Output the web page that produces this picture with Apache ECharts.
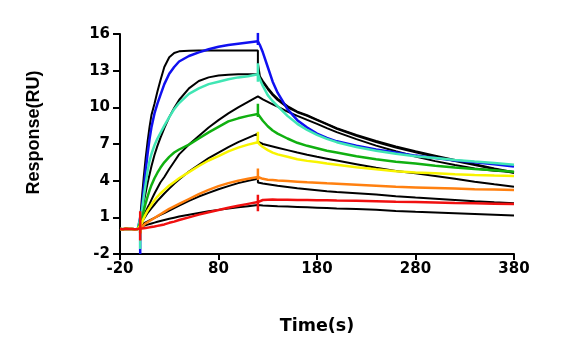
<!DOCTYPE html>
<html><head><meta charset="utf-8">
<script src="https://cdn.jsdelivr.net/npm/echarts@6/dist/echarts.min.js"></script>
<style>html,body{margin:0;padding:0;background:#fff}#c{width:573px;height:355px}</style>
</head><body><div id="c"></div><script>
// Tick labels
const xTicks = [-20, 80, 180, 280, 380];
const yTicks = [-2, 1, 4, 7, 10, 13, 16];

// Time grids (s)
const tBase = [-20, -17, -14, -11, -8, -5, -2, 0];
const tOn = [0, 2, 4, 6, 8, 10, 12, 15, 18, 21, 25, 30, 35, 40, 50, 60, 70, 80, 90, 100, 110, 120];
const tOff = [120, 122, 125, 130, 135, 140, 150, 160, 170, 180, 190, 200, 220, 240, 260, 280, 300, 320, 340, 360, 380];

// Baseline before injection (RU)
const baseline = [0.05, 0.03, 0.06, 0.04, 0.05, 0.03, 0.05, 0.05];

// Measured responses (RU)
const blueOn   = [0.0, 1.5, 3.2, 4.8, 6.2, 7.4, 8.4, 9.5, 10.3, 11.0, 11.9, 12.75, 13.3, 13.75, 14.2, 14.5, 14.75, 14.95, 15.1, 15.2, 15.3, 15.4];
const blueOff  = [15.4, 15.1, 14.5, 13.3, 12.1, 11.2, 9.85, 8.95, 8.35, 7.85, 7.5, 7.22, 6.85, 6.55, 6.3, 6.05, 5.85, 5.65, 5.5, 5.35, 5.15];
const cyanOn   = [0.05, 1.3, 2.6, 3.7, 4.8, 5.6, 6.2, 6.9, 7.45, 7.9, 8.5, 9.2, 9.85, 10.35, 11.1, 11.55, 11.9, 12.1, 12.3, 12.45, 12.55, 12.7];
const cyanOff  = [12.7, 12.3, 11.75, 11.0, 10.5, 10.1, 9.3, 8.65, 8.15, 7.75, 7.42, 7.15, 6.75, 6.45, 6.2, 6.0, 5.85, 5.7, 5.56, 5.44, 5.3];
const greenOn  = [0.05, 0.8, 1.5, 2.15, 2.7, 3.2, 3.65, 4.2, 4.65, 5.05, 5.5, 5.95, 6.3, 6.55, 6.95, 7.45, 7.95, 8.4, 8.85, 9.1, 9.3, 9.45];
const greenOff = [9.45, 9.3, 8.9, 8.45, 8.1, 7.85, 7.45, 7.1, 6.85, 6.65, 6.45, 6.3, 6.0, 5.75, 5.55, 5.4, 5.22, 5.07, 4.95, 4.85, 4.73];
const yellowOn = [0.05, 0.5, 0.9, 1.25, 1.55, 1.8, 2.05, 2.4, 2.7, 2.95, 3.25, 3.6, 3.9, 4.2, 4.7, 5.2, 5.65, 6.0, 6.4, 6.7, 6.95, 7.15];
const yellowOff= [7.15, 6.95, 6.75, 6.5, 6.3, 6.15, 5.95, 5.75, 5.62, 5.52, 5.4, 5.3, 5.1, 4.93, 4.78, 4.67, 4.6, 4.53, 4.47, 4.42, 4.38];
const orangeOn = [0.05, 0.2, 0.35, 0.5, 0.6, 0.7, 0.8, 0.95, 1.1, 1.25, 1.45, 1.7, 1.9, 2.1, 2.5, 2.9, 3.25, 3.55, 3.8, 4.0, 4.15, 4.3];
const orangeOff= [4.3, 4.22, 4.15, 4.08, 4.05, 4.02, 3.97, 3.92, 3.87, 3.83, 3.78, 3.74, 3.66, 3.58, 3.5, 3.45, 3.4, 3.35, 3.3, 3.27, 3.23];
const redOn    = [0.05, 0.08, 0.1, 0.12, 0.15, 0.18, 0.2, 0.25, 0.3, 0.35, 0.42, 0.55, 0.65, 0.78, 1.0, 1.22, 1.42, 1.6, 1.78, 1.95, 2.1, 2.25];
const redOff   = [2.3, 2.38, 2.42, 2.44, 2.45, 2.44, 2.44, 2.42, 2.42, 2.4, 2.4, 2.38, 2.35, 2.32, 2.28, 2.25, 2.22, 2.18, 2.15, 2.12, 2.09];

// Fitted curves (RU)
const blueFitOn   = [0.4, 2.4, 4.2, 5.8, 7.2, 8.4, 9.4, 10.3, 11.3, 12.2, 13.3, 14.1, 14.45, 14.58, 14.63, 14.65, 14.65, 14.65, 14.65, 14.65, 14.65, 14.65];
const blueFitOff  = [13.6, 12.55, 12.15, 11.6, 11.1, 10.7, 10.1, 9.65, 9.35, 9.0, 8.65, 8.3, 7.75, 7.25, 6.8, 6.4, 6.05, 5.7, 5.35, 5.0, 4.68];
const cyanFitOn   = [0.4, 1.3, 2.2, 3.0, 3.8, 4.5, 5.2, 6.1, 6.85, 7.5, 8.3, 9.2, 9.95, 10.6, 11.55, 12.15, 12.45, 12.6, 12.67, 12.7, 12.7, 12.7];
const cyanFitOff  = [12.7, 12.4, 12.05, 11.5, 11.0, 10.6, 10.0, 9.6, 9.3, 8.95, 8.6, 8.25, 7.68, 7.17, 6.72, 6.32, 5.95, 5.6, 5.28, 4.95, 4.63];
const greenFitOn  = [0.4, 0.75, 1.1, 1.45, 1.8, 2.1, 2.45, 2.95, 3.4, 3.85, 4.3, 4.95, 5.55, 6.15, 6.95, 7.65, 8.35, 8.95, 9.5, 10.0, 10.45, 10.9];
const greenFitOff = [10.9, 10.8, 10.65, 10.45, 10.25, 10.05, 9.65, 9.3, 8.97, 8.65, 8.3, 7.97, 7.4, 6.87, 6.4, 5.98, 5.6, 5.28, 5.0, 4.82, 4.7];
const yellowFitOn = [0.35, 0.6, 0.85, 1.1, 1.35, 1.55, 1.75, 2.05, 2.35, 2.6, 2.95, 3.35, 3.75, 4.1, 4.75, 5.3, 5.85, 6.3, 6.75, 7.15, 7.5, 7.85];
const yellowFitOff= [7.2, 7.08, 7.0, 6.9, 6.8, 6.7, 6.5, 6.3, 6.12, 5.95, 5.8, 5.65, 5.35, 5.05, 4.8, 4.6, 4.38, 4.15, 3.92, 3.7, 3.5];
const orangeFitOn = [0.3, 0.4, 0.5, 0.58, 0.66, 0.75, 0.83, 0.95, 1.07, 1.2, 1.35, 1.55, 1.75, 1.95, 2.35, 2.7, 3.0, 3.3, 3.55, 3.8, 4.0, 4.15];
const orangeFitOff= [3.85, 3.8, 3.76, 3.7, 3.64, 3.58, 3.48, 3.38, 3.3, 3.22, 3.14, 3.07, 2.98, 2.87, 2.73, 2.62, 2.52, 2.42, 2.32, 2.23, 2.15];
const redFitOn    = [0.2, 0.25, 0.3, 0.35, 0.4, 0.45, 0.5, 0.57, 0.64, 0.7, 0.78, 0.88, 0.97, 1.06, 1.22, 1.36, 1.49, 1.61, 1.72, 1.82, 1.91, 2.0];
const redFitOff   = [2.0, 1.99, 1.97, 1.95, 1.93, 1.91, 1.88, 1.85, 1.82, 1.79, 1.76, 1.73, 1.68, 1.62, 1.52, 1.45, 1.39, 1.33, 1.27, 1.21, 1.15];

// Injection artefacts (t = 0.5 s) and end-of-injection artefacts (t = 120 s): [low, high]
const injTime = 0.5, endTime = 120;
const blueInj = [-2.0, 1.0],  blueEnd = [15.1, 16.1];
const cyanInj = [-1.6, 1.0],  cyanEnd = [12.1, 13.6];
const greenInj = [-0.3, 1.0], greenEnd = [9.2, 10.3];
const yellowInj = [-0.3, 0.8], yellowEnd = [7.05, 8.0];
const orangeInj = [-0.3, 0.6], orangeEnd = [4.05, 5.0];
const redInj = [-0.9, 1.5],   redEnd = [1.5, 2.85];

const pairs = (ts, vs) => ts.map((t, i) => [t, vs[i]]);

const traces = [
  {color: '#1010f0', on: blueOn, off: blueOff, inj: blueInj, end: blueEnd},
  {color: '#40e6b4', on: cyanOn, off: cyanOff, inj: cyanInj, end: cyanEnd},
  {color: '#10b010', on: greenOn, off: greenOff, inj: greenInj, end: greenEnd},
  {color: '#f8f400', on: yellowOn, off: yellowOff, inj: yellowInj, end: yellowEnd},
  {color: '#ff8010', on: orangeOn, off: orangeOff, inj: orangeInj, end: orangeEnd},
  {color: '#f01010', on: redOn, off: redOff, inj: redInj, end: redEnd}
];
const fits = [
  [blueFitOn, blueFitOff], [cyanFitOn, cyanFitOff], [greenFitOn, greenFitOff],
  [yellowFitOn, yellowFitOff], [orangeFitOn, orangeFitOff], [redFitOn, redFitOff]
];

const series = [];
fits.forEach(f => {
  series.push({type: 'line', data: pairs(tOn, f[0]).concat(pairs(tOff, f[1])),
    symbol: 'none', lineStyle: {color: '#000', width: 2}, z: 2, silent: true});
});
traces.forEach(tr => {
  const d = pairs(tBase, baseline).concat(pairs(tOn.slice(1), tr.on.slice(1)), pairs(tOff.slice(1), tr.off.slice(1)));
  series.push({type: 'line', data: d, symbol: 'none', lineStyle: {color: tr.color, width: 2.5}, z: 3, silent: true});
  series.push({type: 'line', data: [[injTime, tr.inj[0]], [injTime, tr.inj[1]]], symbol: 'none', lineStyle: {color: tr.color, width: 2.5}, z: 3, silent: true});
  series.push({type: 'line', data: [[endTime, tr.end[0]], [endTime, tr.end[1]]], symbol: 'none', lineStyle: {color: tr.color, width: 2.5}, z: 3, silent: true});
});

const axisFont = {fontFamily: 'DejaVu Sans', fontWeight: 'bold', fontSize: 15, color: '#000'};
const chart = echarts.init(document.getElementById('c'), null, {renderer: 'canvas'});
chart.setOption({
  animation: false,
  backgroundColor: '#fff',
  grid: {left: 120, right: 59, top: 34, bottom: 101, containLabel: false},
  xAxis: {
    type: 'value', min: -20, max: 380,
    name: 'Time(s)', nameLocation: 'middle', nameGap: 63,
    nameTextStyle: {fontFamily: 'DejaVu Sans', fontWeight: 'bold', fontSize: 17.5, color: '#000'},
    axisLine: {show: true, onZero: false, lineStyle: {color: '#000', width: 2}},
    axisTick: {show: true, inside: false, length: 6, lineStyle: {color: '#000', width: 2}, customValues: xTicks},
    axisLabel: Object.assign({margin: 8, customValues: xTicks}, axisFont),
    splitLine: {show: false}
  },
  yAxis: {
    type: 'value', min: -2, max: 16,
    name: 'Response(RU)', nameLocation: 'middle', nameGap: 77, nameRotate: 90,
    nameTextStyle: {fontFamily: 'Liberation Sans', fontWeight: 'bold', fontSize: 18, color: '#000', padding: [0, 0, 0, 23]},
    axisLine: {show: true, onZero: false, lineStyle: {color: '#000', width: 2}},
    axisTick: {show: true, inside: false, length: 7, lineStyle: {color: '#000', width: 2}, customValues: yTicks},
    axisLabel: Object.assign({margin: 10, customValues: yTicks}, axisFont),
    splitLine: {show: false}
  },
  series: series
});
</script></body></html>
